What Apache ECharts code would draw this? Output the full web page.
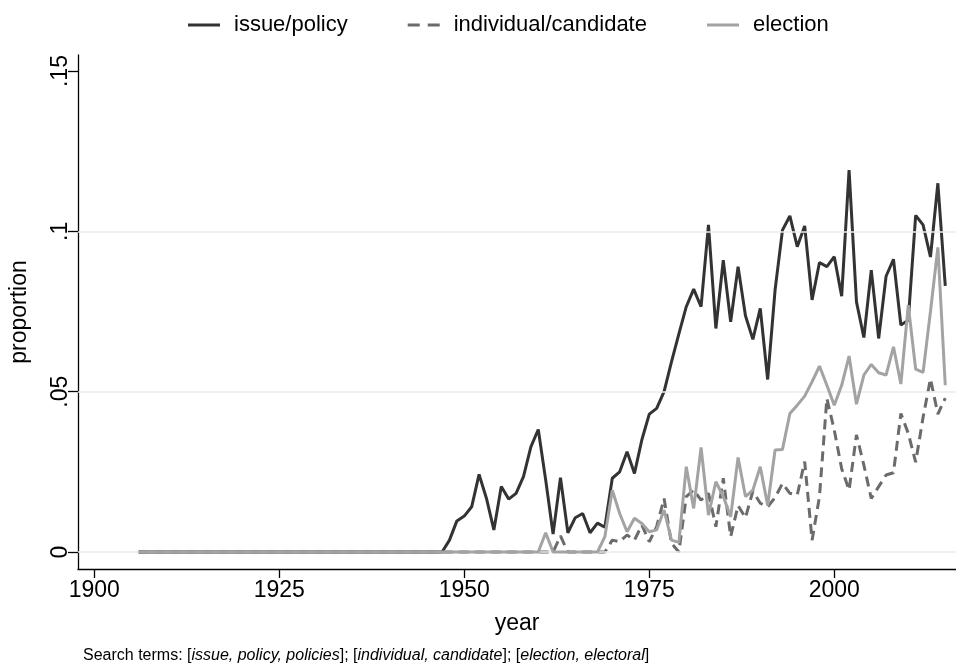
<!DOCTYPE html>
<html>
<head>
<meta charset="utf-8">
<script src="https://cdn.jsdelivr.net/npm/echarts@6/dist/echarts.min.js"></script>
<style>
html,body{margin:0;padding:0;background:#fff;}
#chart{width:956px;height:670px;}
</style>
</head>
<body>
<div id="chart"></div>
<script>
// ---- data ----
const startYear = 1906;
const endYear = 2015;
const years = [];
for (let y = startYear; y <= endYear; y++) years.push(y);

const issueZerosUntil = 1947; // 1906..1947 are 0
const issueValues = [ // 1948..2015
  0.0037,0.0097,0.0112,0.0141,0.0242,0.0167,0.0069,0.0204,0.0165,0.0183,
  0.0235,0.0328,0.0382,0.0225,0.0056,0.0232,0.0060,0.0107,0.0120,0.0060,
  0.0090,0.0077,0.0230,0.0250,0.0313,0.0245,0.0350,0.0430,0.0448,0.0500,
  0.0593,0.0680,0.0765,0.0820,0.0765,0.1020,0.0697,0.0910,0.0718,0.0890,
  0.0737,0.0663,0.0760,0.0538,0.0817,0.1004,0.1048,0.0952,0.1017,0.0786,
  0.0903,0.0890,0.0921,0.0798,0.1191,0.0780,0.0669,0.0879,0.0666,0.0860,
  0.0913,0.0708,0.0723,0.1050,0.1020,0.0920,0.1150,0.0830
];
const individualZerosUntil = 1962; // 1906..1962 are 0
const individualValues = [ // 1963..2015
  0.0050,0,0,0,0,0,0,0.0037,0.0032,0.0053,
  0.0037,0.0084,0.0032,0.0079,0.0167,0.0027,0,0.0173,0.0193,0.0162,
  0.0183,0.0079,0.0230,0.0048,0.0145,0.0107,0.0190,0.0152,0.0141,0.0170,
  0.0214,0.0183,0.0178,0.0282,0.0037,0.0173,0.0479,0.0380,0.0260,0.0193,
  0.0365,0.0271,0.0167,0.0204,0.0240,0.0247,0.0432,0.0370,0.0280,0.0420,
  0.0540,0.0430,0.0480
];
const electionZerosUntil = 1960; // 1906..1960 are 0
const electionValues = [ // 1961..2015
  0.0060,0,0,0,0,0,0,0,0.0048,0.0193,
  0.0120,0.0063,0.0105,0.0089,0.0063,0.0069,0.0131,0.0037,0.0030,0.0266,
  0.0136,0.0326,0.0115,0.0219,0.0173,0.0110,0.0295,0.0173,0.0193,0.0266,
  0.0145,0.0318,0.0320,0.0432,0.0458,0.0486,0.0531,0.0580,0.0520,0.0458,
  0.0520,0.0611,0.0461,0.0552,0.0585,0.0559,0.0552,0.0640,0.0524,0.0770,
  0.0570,0.0560,0.0750,0.0950,0.0520
];

const seriesNames = ['issue/policy', 'individual/candidate', 'election'];
const xTicks = [1900, 1925, 1950, 1975, 2000];
const yTicks = [0, 0.05, 0.10, 0.15];
const yTickLabels = ['0', '.05', '.1', '.15'];
const gridValues = [0, 0.05, 0.10];

function build(zerosUntil, vals) {
  const out = [];
  let k = 0;
  for (const y of years) {
    if (y <= zerosUntil) out.push([y, 0]);
    else out.push([y, vals[k++]]);
  }
  return out;
}

const font = 'Liberation Sans, Arial, sans-serif';
const cIssue = '#333333', cInd = '#6b6b6b', cElec = '#a3a3a3';
const chart = echarts.init(document.getElementById('chart'), null, {renderer: 'canvas'});
chart.setOption({
  animation: false,
  backgroundColor: '#fff',
  title: {
    left: 78, top: 643,
    text: 'Search terms: [{i|issue, policy, policies}]; [{i|individual, candidate}]; [{i|election, electoral}]',
    textStyle: {
      fontFamily: font, fontSize: 16, fontWeight: 'normal', color: '#000',
      rich: { i: { fontFamily: font, fontSize: 16, fontStyle: 'italic', color: '#000' } }
    }
  },
  legend: {
    top: 9, left: 183,
    data: [
      { name: seriesNames[0], icon: 'rect', itemStyle: { color: cIssue } },
      { name: seriesNames[1], icon: 'path://M0,0H12V3H0Z M20,0H32V3H20Z', itemStyle: { color: cInd } },
      { name: seriesNames[2], icon: 'rect', itemStyle: { color: cElec } }
    ],
    itemWidth: 32, itemHeight: 3, itemGap: 60,
    textStyle: { fontFamily: font, fontSize: 22, color: '#000', padding: [0, 0, 0, 9] }
  },
  grid: { left: 78, right: 0, top: 55, bottom: 101, containLabel: false },
  xAxis: {
    type: 'value', min: 1897.8, max: 2016.45,
    name: 'year', nameLocation: 'middle', nameGap: 43,
    nameTextStyle: { fontFamily: font, fontSize: 23, color: '#000' },
    axisLine: { onZero: false, lineStyle: { color: '#000', width: 1.3 } },
    axisTick: { customValues: xTicks, length: 9, lineStyle: { color: '#000', width: 1.3 } },
    axisLabel: {
      customValues: xTicks, margin: 10, fontFamily: font, fontSize: 23, color: '#000',
      formatter: function (v) { return String(Math.round(v)); }
    },
    splitLine: { show: false }
  },
  yAxis: {
    type: 'value', min: -0.0053, max: 0.155,
    name: 'proportion', nameLocation: 'middle', nameGap: 47,
    nameTextStyle: { fontFamily: font, fontSize: 23, color: '#000' },
    axisLine: { onZero: false, lineStyle: { color: '#000', width: 1.3 } },
    axisTick: { customValues: yTicks, length: 10, lineStyle: { color: '#000', width: 1.3 } },
    axisLabel: {
      customValues: yTicks, rotate: 90, margin: 6, fontFamily: font, fontSize: 23, color: '#000',
      formatter: function (v) {
        for (let i = 0; i < yTicks.length; i++) if (Math.abs(yTicks[i] - v) < 1e-9) return yTickLabels[i];
        return '';
      }
    },
    splitLine: { show: false }
  },
  series: [
    {
      name: 'gridlines', type: 'line', data: [], silent: true, z: 1,
      markLine: {
        silent: true, symbol: 'none', animation: false, label: { show: false },
        lineStyle: { color: '#e4eef1', width: 1.5, type: 'solid' },
        data: gridValues.map(v => ({ yAxis: v }))
      }
    },
    {
      name: seriesNames[0], type: 'line', data: build(issueZerosUntil, issueValues),
      showSymbol: false, symbol: 'none', z: 3,
      lineStyle: { color: cIssue, width: 3 }, itemStyle: { color: cIssue }
    },
    {
      name: seriesNames[1], type: 'line', data: build(individualZerosUntil, individualValues),
      showSymbol: false, symbol: 'none', z: 4,
      lineStyle: { color: cInd, width: 3, type: [10, 6] }, itemStyle: { color: cInd }
    },
    {
      name: seriesNames[2], type: 'line', data: build(electionZerosUntil, electionValues),
      showSymbol: false, symbol: 'none', z: 5,
      lineStyle: { color: cElec, width: 3 }, itemStyle: { color: cElec }
    }
  ]
});
</script>
</body>
</html>
